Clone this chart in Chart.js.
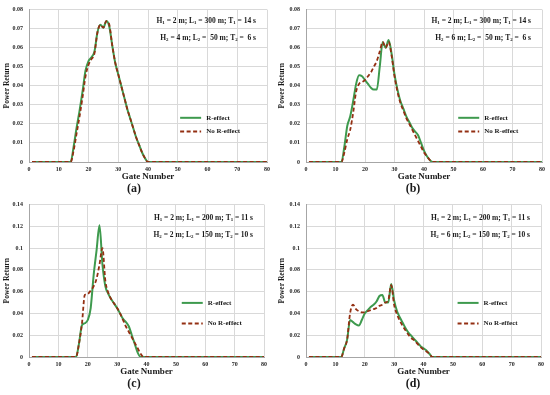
<!DOCTYPE html>
<html>
<head>
<meta charset="UTF-8">
<title>Power Return vs Gate Number</title>
<script src="https://cdn.jsdelivr.net/npm/chart.js@4.4.1/dist/chart.umd.min.js"></script>
<style>
  body { margin: 0; background: #fff; }
  #wrap { position: relative; width: 550px; height: 395px; }
  #wrap canvas { position: absolute; }
</style>
</head>
<body>
<div id="wrap">
  <canvas id="panelA" width="275" height="200" style="left:0;top:0"></canvas>
  <canvas id="panelB" width="275" height="200" style="left:275px;top:0"></canvas>
  <canvas id="panelC" width="275" height="200" style="left:0;top:195px"></canvas>
  <canvas id="panelD" width="275" height="200" style="left:275px;top:195px"></canvas>
</div>

<script>
// ---- data ----
const xTicks = [0, 10, 20, 30, 40, 50, 60, 70, 80];
const yTicksTop = [0, 0.01, 0.02, 0.03, 0.04, 0.05, 0.06, 0.07, 0.08];
const yTicksBottom = [0, 0.02, 0.04, 0.06, 0.08, 0.1, 0.12, 0.14];
const seriesNames = ['R-effect', 'No R-effect'];

// (a)
const gatesA = [1, 14, 15, 16, 17, 18, 19, 20, 21, 22, 23, 24, 25, 26, 27, 28, 29, 30, 31, 32, 33, 34, 35, 36, 37, 38, 39, 40, 80];
const rEffectA = [0, 0, 0.008, 0.018, 0.027, 0.037, 0.048, 0.053, 0.055, 0.058, 0.068, 0.072, 0.0705, 0.074, 0.071, 0.061, 0.052, 0.046, 0.040, 0.034, 0.028, 0.023, 0.018, 0.013, 0.009, 0.005, 0.002, 0, 0];
const noEffectA = [0, 0, 0.006, 0.015, 0.024, 0.034, 0.045, 0.051, 0.054, 0.057, 0.068, 0.072, 0.0705, 0.074, 0.072, 0.061, 0.052, 0.046, 0.040, 0.034, 0.028, 0.023, 0.018, 0.013, 0.009, 0.005, 0.002, 0, 0];
const notesA = ['H_1 = 2 m; L_1 = 300 m; T_1 = 14 s', 'H_2 = 4 m; L_2 =  50 m; T_2 =  6 s'];

// (b)
const gatesB = [1, 12, 13, 14, 15, 16, 17, 18, 19, 20, 21, 22, 23, 24, 25, 26, 27, 28, 29, 30, 31, 32, 33, 34, 35, 36, 37, 38, 39, 40, 41, 42, 43, 80];
const rEffectB = [0, 0, 0.008, 0.019, 0.024, 0.032, 0.041, 0.0455, 0.045, 0.043, 0.041, 0.039, 0.038, 0.038, 0.050, 0.063, 0.060, 0.064, 0.057, 0.046, 0.038, 0.032, 0.028, 0.024, 0.021, 0.018, 0.016, 0.014, 0.010, 0.006, 0.003, 0.001, 0, 0];
const noEffectB = [0, 0, 0.005, 0.012, 0.017, 0.026, 0.037, 0.041, 0.042, 0.043, 0.045, 0.047, 0.050, 0.053, 0.058, 0.063, 0.060, 0.063, 0.056, 0.045, 0.037, 0.031, 0.027, 0.023, 0.020, 0.017, 0.014, 0.011, 0.008, 0.005, 0.003, 0.001, 0, 0];
const notesB = ['H_1 = 2 m; L_1 = 300 m; T_1 = 14 s', 'H_2 = 6 m; L_2 =  50 m; T_2 =  6 s'];

// (c)
const gatesC = [1, 16, 17, 18, 19, 20, 21, 22, 23, 24, 25, 26, 27, 28, 29, 30, 31, 32, 33, 34, 35, 36, 37, 38, 39, 80];
const rEffectC = [0, 0, 0.012, 0.029, 0.031, 0.034, 0.045, 0.075, 0.098, 0.121, 0.085, 0.065, 0.058, 0.053, 0.049, 0.045, 0.040, 0.035, 0.032, 0.028, 0.020, 0.012, 0.004, 0, 0, 0];
const noEffectC = [0, 0, 0.012, 0.030, 0.057, 0.058, 0.061, 0.065, 0.072, 0.085, 0.100, 0.070, 0.059, 0.053, 0.049, 0.045, 0.040, 0.034, 0.028, 0.023, 0.018, 0.013, 0.008, 0.003, 0, 0];
const notesC = ['H_1 = 2 m; L_1 = 200 m; T_1 = 11 s', 'H_2 = 2 m; L_2 = 150 m; T_2 = 10 s'];

// (d)
const gatesD = [1, 12, 13, 14, 15, 16, 17, 18, 19, 20, 21, 22, 23, 24, 25, 26, 27, 28, 29, 30, 31, 32, 33, 34, 35, 36, 37, 38, 39, 40, 41, 42, 43, 80];
const rEffectD = [0, 0, 0.008, 0.016, 0.034, 0.032, 0.030, 0.029, 0.034, 0.040, 0.043, 0.046, 0.048, 0.051, 0.056, 0.057, 0.050, 0.050, 0.067, 0.052, 0.042, 0.036, 0.031, 0.026, 0.022, 0.019, 0.016, 0.013, 0.010, 0.008, 0.006, 0.003, 0, 0];
const noEffectD = [0, 0, 0.008, 0.016, 0.040, 0.048, 0.044, 0.042, 0.041, 0.041, 0.042, 0.043, 0.044, 0.045, 0.047, 0.048, 0.050, 0.052, 0.066, 0.048, 0.039, 0.033, 0.028, 0.024, 0.020, 0.017, 0.015, 0.012, 0.009, 0.007, 0.005, 0.003, 0, 0];
const notesD = ['H_1 = 2 m; L_1 = 200 m; T_1 = 11 s', 'H_2 = 6 m; L_2 = 150 m; T_2 = 10 s'];

// ---- styling ----
const GREEN = '#3e9a4e';
const BROWN = '#932f12';
const SERIF = "'Liberation Serif', 'DejaVu Serif', serif";

function pts(gates, vals) {
  return gates.map((g, i) => ({ x: g, y: vals[i] }));
}

// draws "H_1 = ..." with subscripts, right-aligned at x
function drawNote(ctx, text, xRight, y, size) {
  const parts = [];
  for (let i = 0; i < text.length; i++) {
    if (text[i] === '_') { parts.push({ t: text[i + 1], sub: true }); i++; }
    else {
      if (!parts.length || parts[parts.length - 1].sub) parts.push({ t: '', sub: false });
      parts[parts.length - 1].t += text[i];
    }
  }
  const big = 'bold ' + size + 'px ' + SERIF;
  const small = 'bold ' + (size * 0.65) + 'px ' + SERIF;
  let w = 0;
  parts.forEach(p => { ctx.font = p.sub ? small : big; w += ctx.measureText(p.t).width; });
  let x = xRight - w;
  ctx.textBaseline = 'middle';
  ctx.textAlign = 'left';
  parts.forEach(p => {
    ctx.font = p.sub ? small : big;
    ctx.fillText(p.t, x, p.sub ? y + size * 0.3 : y);
    x += ctx.measureText(p.t).width;
  });
}

const extrasPlugin = {
  id: 'extras',
  afterDraw(chart, args, o) {
    const ctx = chart.ctx;
    const a = chart.chartArea;
    const w = a.right - a.left, h = a.bottom - a.top;
    ctx.save();
    ctx.fillStyle = '#1a1a1a';
    // parameter notes
    o.notes.forEach((t, i) => drawNote(ctx, t, a.right - 11, a.top + o.noteY + i * 17, 7.5));
    // legend
    const lx = a.left + o.legX * w;
    o.legY.forEach((fy, i) => {
      const y = a.top + fy * h;
      ctx.beginPath();
      ctx.strokeStyle = i === 0 ? GREEN : BROWN;
      ctx.lineWidth = 2;
      ctx.setLineDash(i === 0 ? [] : [4, 2.5]);
      ctx.moveTo(lx, y);
      ctx.lineTo(lx + 21, y);
      ctx.stroke();
      ctx.setLineDash([]);
      ctx.font = 'bold 7px ' + SERIF;
      ctx.textAlign = 'left';
      ctx.textBaseline = 'middle';
      ctx.fillText(seriesNames[i], lx + 26, y);
    });
    // panel caption
    ctx.font = 'bold 12px ' + SERIF;
    ctx.textAlign = 'center';
    ctx.textBaseline = 'middle';
    ctx.fillText(o.caption, o.capX, o.capY);
    ctx.restore();
  }
};

function makePanel(id, gates, rVals, nVals, yTicks, yMax, notes, caption, box, extra) {
  new Chart(document.getElementById(id), {
    type: 'line',
    data: {
      datasets: [{
        label: seriesNames[0],
        data: pts(gates, rVals),
        borderColor: GREEN,
        borderWidth: 2,
        order: 1
      }, {
        label: seriesNames[1],
        data: pts(gates, nVals),
        borderColor: BROWN,
        borderWidth: 1.8,
        borderDash: [4, 2.5],
        order: 0
      }]
    },
    options: {
      responsive: false,
      animation: false,
      devicePixelRatio: 1,
      elements: {
        point: { radius: 0 },
        line: { cubicInterpolationMode: 'monotone', fill: false }
      },
      layout: { padding: { left: 0, top: box.top, right: 275 - box.right, bottom: 0 } },
      plugins: {
        legend: { display: false },
        tooltip: { enabled: false },
        extras: Object.assign({ notes: notes, caption: caption }, extra)
      },
      scales: {
        x: {
          type: 'linear',
          min: 0, max: 80,
          afterBuildTicks: s => { s.ticks = xTicks.map(v => ({ value: v })); },
          afterFit: s => { s.height = 200 - box.bottom; },
          grid: { color: '#d9d9d9', drawTicks: false },
          border: { color: '#a6a6a6' },
          ticks: { padding: 4, color: '#262626', font: { family: SERIF, size: 6, weight: 'bold' }, maxRotation: 0 },
          title: { display: true, text: 'Gate Number', color: '#1a1a1a', padding: { top: 0, bottom: box.titleGap }, font: { family: SERIF, size: 9, weight: 'bold' } }
        },
        y: {
          min: 0, max: yMax,
          afterBuildTicks: s => { s.ticks = yTicks.map(v => ({ value: v })); },
          afterFit: s => { s.width = box.left; },
          grid: { color: '#d9d9d9', drawTicks: false },
          border: { color: '#a6a6a6' },
          ticks: { padding: 6, color: '#262626', font: { family: SERIF, size: 6, weight: 'bold' }, callback: v => String(v) },
          title: { display: true, text: 'Power Return', color: '#1a1a1a', padding: { top: 3, bottom: 0 }, font: { family: SERIF, size: 7.5, weight: 'bold' } }
        }
      }
    },
    plugins: [extrasPlugin]
  });
}

makePanel('panelA', gatesA, rEffectA, noEffectA, yTicksTop, 0.08, notesA, '(a)',
  { left: 29, right: 267, top: 8, bottom: 162, titleGap: 18 },
  { noteY: 11, legX: 0.635, legY: [0.71, 0.80], capX: 134, capY: 189 });
makePanel('panelB', gatesB, rEffectB, noEffectB, yTicksTop, 0.08, notesB, '(b)',
  { left: 31, right: 267, top: 7, bottom: 162, titleGap: 18 },
  { noteY: 11, legX: 0.645, legY: [0.71, 0.80], capX: 138, capY: 189 });
makePanel('panelC', gatesC, rEffectC, noEffectC, yTicksBottom, 0.14, notesC, '(c)',
  { left: 29, right: 264, top: 7, bottom: 162, titleGap: 18 },
  { noteY: 13, legX: 0.65, legY: [0.645, 0.78], capX: 134, capY: 189 });
makePanel('panelD', gatesD, rEffectD, noEffectD, yTicksBottom, 0.14, notesD, '(d)',
  { left: 31, right: 266, top: 7, bottom: 162, titleGap: 18 },
  { noteY: 13, legX: 0.645, legY: [0.645, 0.78], capX: 138, capY: 189 });
</script>
</body>
</html>
